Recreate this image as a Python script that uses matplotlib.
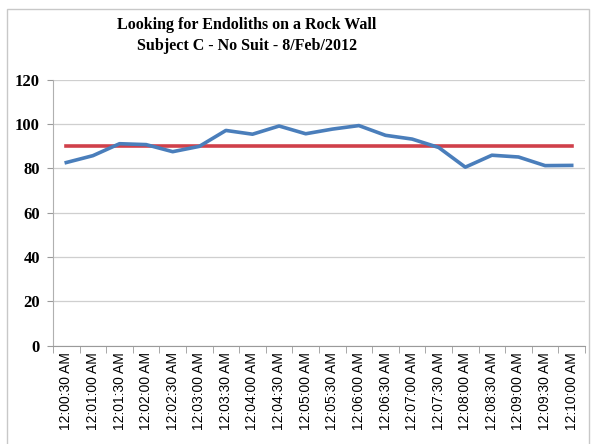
import matplotlib.pyplot as plt
import matplotlib.patches as patches

# readings every 30 s, plus the 90 reference level
times = ["12:00:30 AM", "12:01:00 AM", "12:01:30 AM", "12:02:00 AM",
         "12:02:30 AM", "12:03:00 AM", "12:03:30 AM", "12:04:00 AM",
         "12:04:30 AM", "12:05:00 AM", "12:05:30 AM", "12:06:00 AM",
         "12:06:30 AM", "12:07:00 AM", "12:07:30 AM", "12:08:00 AM",
         "12:08:30 AM", "12:09:00 AM", "12:09:30 AM", "12:10:00 AM"]
values = [82.7, 85.8, 91.2, 90.8, 87.6, 90.0, 97.2, 95.5, 99.2, 95.7,
          97.8, 99.4, 95.0, 93.3, 89.5, 80.6, 86.0, 85.2, 81.3, 81.4]
threshold = [90] * len(times)
yticks = [0, 20, 40, 60, 80, 100, 120]

fig = plt.figure(figsize=(5.93, 4.44), dpi=100)
fig.patch.set_facecolor("white")

# chart border
fig.patches.append(patches.Rectangle((7 / 593, -0.01), 582 / 593, 1 - 9 / 444 + 0.01,
                                     transform=fig.transFigure, fill=False,
                                     edgecolor="#c8c8c8", linewidth=1.0))

ax = fig.add_axes([53 / 593, 1 - 345.5 / 444, 532 / 593, 265.5 / 444])

x = list(range(len(times)))
ax.plot(x, values, color="#4a7ebb", linewidth=2.6, solid_joinstyle="round", zorder=3)
ax.plot(x, threshold, color="#d0404a", linewidth=2.6, zorder=2)

ax.set_xlim(-0.5, len(times) - 0.5)
ax.set_ylim(0, 120)

ax.set_yticks(yticks)
ax.set_yticklabels([str(v) for v in yticks], fontfamily="Liberation Serif",
                   fontweight="bold", fontsize=12)
ax.yaxis.grid(True, color="#cfcfcf", linewidth=0.9)
ax.set_axisbelow(True)

ax.set_xticks(x)
ax.set_xticklabels(times, rotation=90, fontfamily="Liberation Sans", fontsize=10)
ax.set_xticks([i - 0.5 for i in range(len(times) + 1)], minor=True)
ax.tick_params(axis="x", which="major", length=0, pad=5)
ax.tick_params(axis="x", which="minor", length=5, color="#9a9a9a")
ax.tick_params(axis="y", length=4, color="#9a9a9a", pad=5.5)

for side in ["top", "right"]:
    ax.spines[side].set_visible(False)
ax.spines["left"].set_color("#b0b0b0")
ax.spines["bottom"].set_color("#9a9a9a")

fig.text(247 / 593, 1 - 25 / 444, "Looking for Endoliths on a Rock Wall",
         ha="center", va="center", fontfamily="Liberation Serif",
         fontweight="bold", fontsize=11.5)
fig.text(247 / 593, 1 - 46 / 444, "Subject C - No Suit - 8/Feb/2012",
         ha="center", va="center", fontfamily="Liberation Serif",
         fontweight="bold", fontsize=11.5)

fig.savefig("out.png", dpi=100)
